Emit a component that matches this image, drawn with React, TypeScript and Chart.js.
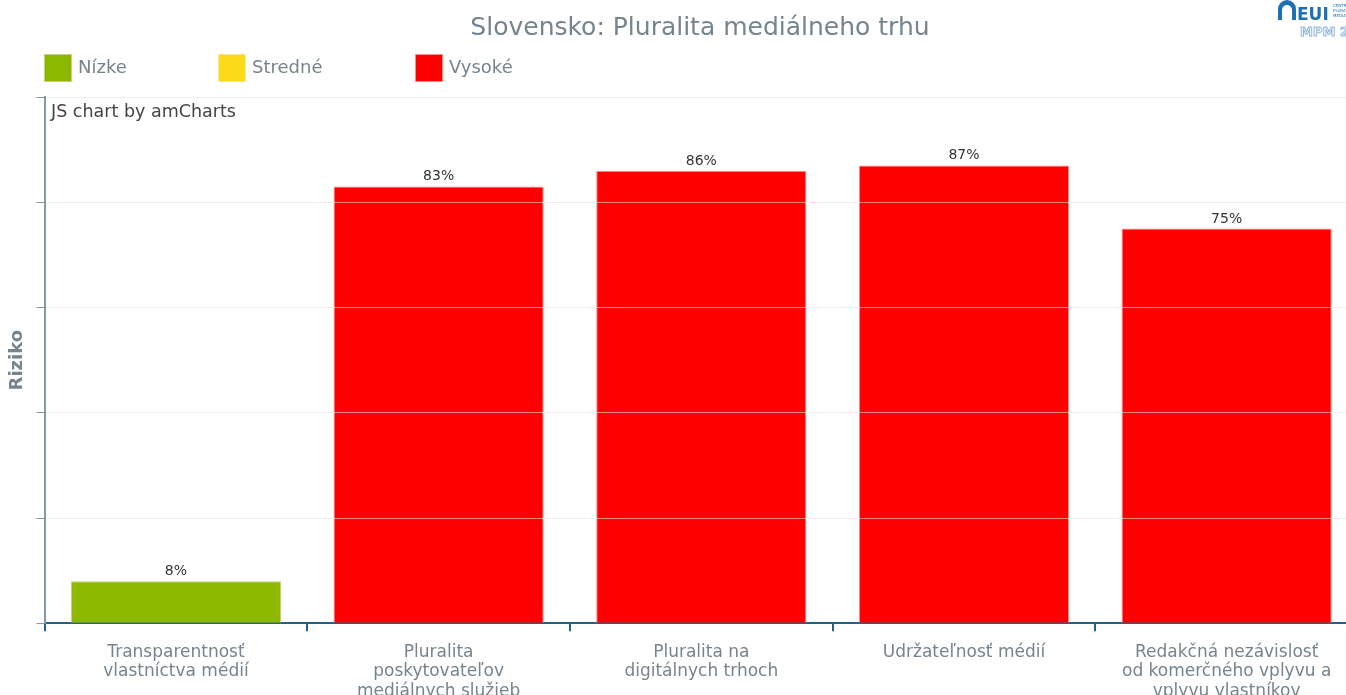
import { useEffect, useRef } from 'react';
import { Chart, registerables } from 'chart.js';

Chart.register(...registerables);

// ---- data ----
const CHART_TITLE = 'Slovensko: Pluralita mediálneho trhu';
const Y_TITLE = 'Riziko';
const WATERMARK = 'JS chart by amCharts';
const CATEGORIES: string[][] = [
  ['Transparentnosť', 'vlastníctva médií'],
  ['Pluralita', 'poskytovateľov', 'mediálnych služieb'],
  ['Pluralita na', 'digitálnych trhoch'],
  ['Udržateľnosť médií'],
  ['Redakčná nezávislosť', 'od komerčného vplyvu a', 'vplyvu vlastníkov'],
];
const RISK_VALUES = [8, 83, 86, 87, 75];
const RISK_LEVELS = [0, 2, 2, 2, 2];
const LEVEL_NAMES = ['Nízke', 'Stredné', 'Vysoké'];
const LEVEL_COLORS = ['#8db800', '#fcda1a', '#ff0000'];
const LEVEL_BORDERS = ['#c9cf7a', '#fde98a', '#ff8a8a'];
const Y_MIN = 0;
const Y_MAX = 100;
const Y_STEP = 20;

const FONT = '"DejaVu Sans", Verdana, sans-serif';
const GRAY_TEXT = '#76848e';

const overlayPlugin = {
  id: 'overlay',
  afterDraw(chart: any) {
    const ctx = chart.ctx as CanvasRenderingContext2D;
    ctx.save();
    // title
    ctx.font = `25px ${FONT}`;
    ctx.fillStyle = GRAY_TEXT;
    ctx.textAlign = 'center';
    ctx.textBaseline = 'middle';
    ctx.fillText(CHART_TITLE, 700, 28);

    // legend
    const legendX = [44, 218, 415];
    ctx.font = `18px ${FONT}`;
    ctx.textAlign = 'left';
    LEVEL_NAMES.forEach((name, i) => {
      const x = legendX[i];
      ctx.fillStyle = LEVEL_COLORS[i];
      ctx.fillRect(x, 54, 28, 28);
      ctx.strokeStyle = LEVEL_BORDERS[i];
      ctx.lineWidth = 1;
      ctx.strokeRect(x + 0.5, 54.5, 27, 27);
      ctx.fillStyle = GRAY_TEXT;
      ctx.fillText(name, x + 34, 68);
    });

    // watermark
    ctx.font = `17.5px ${FONT}`;
    ctx.fillStyle = '#444';
    ctx.textBaseline = 'middle';
    ctx.fillText(WATERMARK, 51, 112);

    // logo (approximation)
    ctx.fillStyle = '#1f6fb5';
    ctx.beginPath();
    ctx.moveTo(1278, 20);
    ctx.lineTo(1278, 9);
    ctx.arc(1287, 9, 9, Math.PI, 0);
    ctx.lineTo(1296, 20);
    ctx.lineTo(1292, 20);
    ctx.lineTo(1292, 10);
    ctx.arc(1287, 10, 5, 0, Math.PI, true);
    ctx.lineTo(1282, 20);
    ctx.closePath();
    ctx.fill();
    ctx.font = `bold 17px ${FONT}`;
    ctx.textBaseline = 'alphabetic';
    ctx.fillText('EUI', 1297, 20);
    ctx.font = `4px ${FONT}`;
    ctx.fillText('CENTRE', 1333, 7);
    ctx.fillText('PLURAL', 1333, 12);
    ctx.fillText('MEDIA', 1333, 17);
    ctx.font = `bold 13px ${FONT}`;
    ctx.strokeStyle = '#8fb6da';
    ctx.lineWidth = 1;
    ctx.strokeText('MPM 2', 1300, 36);
    ctx.restore();
  },
};

const valueLabelPlugin = {
  id: 'valueLabels',
  afterDatasetsDraw(chart: any) {
    const ctx = chart.ctx as CanvasRenderingContext2D;
    const meta = chart.getDatasetMeta(0);
    ctx.save();
    ctx.font = `14px ${FONT}`;
    ctx.fillStyle = '#333';
    ctx.textAlign = 'center';
    ctx.textBaseline = 'alphabetic';
    meta.data.forEach((bar: any, i: number) => {
      ctx.fillText(`${RISK_VALUES[i]}%`, bar.x, bar.y - 6);
    });
    ctx.restore();
  },
};

export default function App() {
  const ref = useRef<HTMLCanvasElement | null>(null);

  useEffect(() => {
    if (!ref.current) return;
    const chart = new Chart(ref.current, {
      type: 'bar',
      data: {
        labels: CATEGORIES,
        datasets: [
          {
            data: RISK_VALUES,
            backgroundColor: RISK_LEVELS.map((l) => LEVEL_COLORS[l]),
            borderColor: RISK_LEVELS.map((l) => LEVEL_BORDERS[l]),
            borderWidth: 1,
            barPercentage: 0.8,
            categoryPercentage: 1,
          },
        ],
      },
      options: {
        responsive: false,
        animation: false,
        devicePixelRatio: 1,
        layout: { padding: { top: 97, left: 7, right: 0, bottom: 0 } },
        plugins: {
          legend: { display: false },
          title: { display: false },
          tooltip: { enabled: false },
        },
        scales: {
          x: {
            offset: true,
            grid: {
              offset: true,
              drawOnChartArea: false,
              drawTicks: true,
              tickLength: 8,
              tickColor: '#21618c',
              lineWidth: 2,
            },
            border: { display: true, color: '#21618c', width: 2 },
            ticks: {
              color: GRAY_TEXT,
              font: { family: FONT, size: 17, lineHeight: 1.15 },
              padding: 11,
              maxRotation: 0,
              autoSkip: false,
            },
          },
          y: {
            min: Y_MIN,
            max: Y_MAX,
            grid: {
              z: 1,
              color: (c: any) => (c.tick && c.tick.value === 0 ? 'rgba(0,0,0,0)' : 'rgba(225,225,225,0.6)'),
              tickColor: '#8796a0',
              drawTicks: true,
              tickLength: 8,
            },
            border: { display: true, color: '#8796a0', width: 2, z: 2 },
            ticks: { display: false, stepSize: Y_STEP },
            title: {
              display: true,
              text: Y_TITLE,
              color: GRAY_TEXT,
              font: { family: FONT, size: 18, weight: 'bold' },
              padding: { top: 0, bottom: 8 },
            },
          },
        },
      },
      plugins: [valueLabelPlugin, overlayPlugin],
    } as any);
    return () => chart.destroy();
  }, []);

  return (
    <div
      style={{
        position: 'fixed',
        top: 0,
        left: 0,
        width: 1346,
        height: 695,
        overflow: 'hidden',
        background: '#fff',
      }}
    >
      <canvas ref={ref} width={1358} height={712} style={{ display: 'block', width: 1358, height: 712 }} />
    </div>
  );
}
